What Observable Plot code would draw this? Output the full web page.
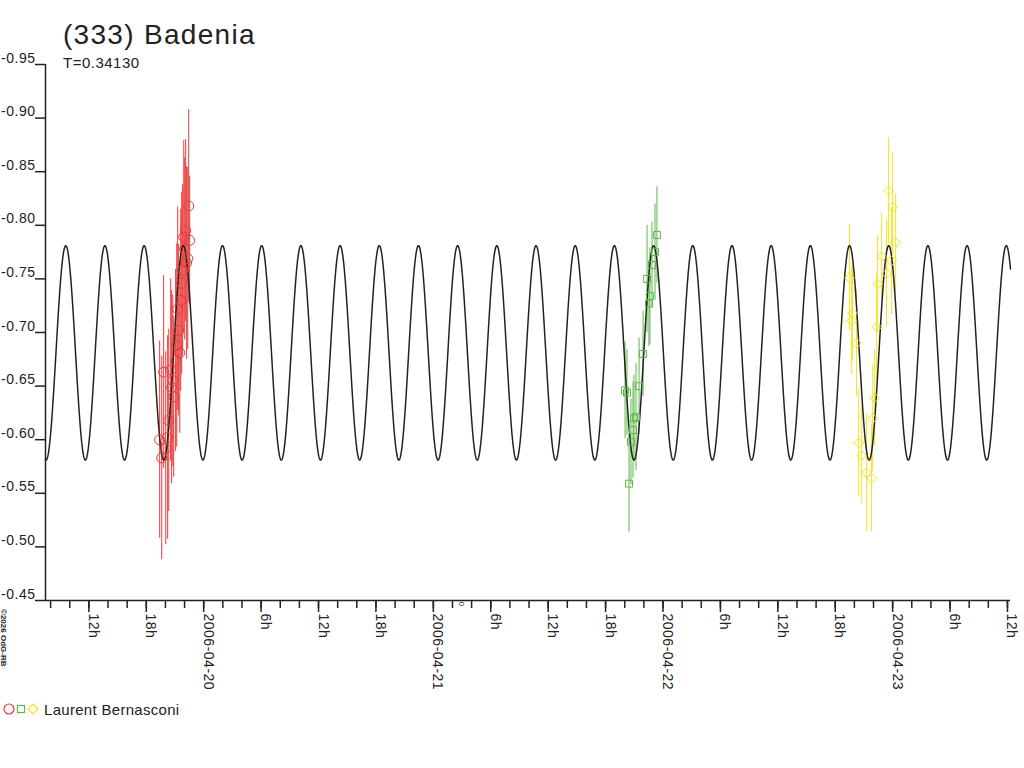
<!DOCTYPE html>
<html><head><meta charset="utf-8">
<script src="https://cdn.jsdelivr.net/npm/d3@7"></script>
<script src="https://cdn.jsdelivr.net/npm/@observablehq/plot@0.6"></script>
<style>
body{margin:0;background:#fff;font-family:"Liberation Sans",Arial,sans-serif;}
#wrap{position:relative;width:1024px;height:768px;overflow:hidden;background:#fff;}
#chart svg text{letter-spacing:0.5px;}
.ov{position:absolute;white-space:nowrap;color:#222;}
</style></head><body>
<div id="wrap">
  <div id="chart"></div>
  <div class="ov" id="title" style="left:63px;top:21px;font-size:28px;line-height:28px;letter-spacing:1.3px"></div>
  <div class="ov" id="subtitle" style="left:63px;top:55px;font-size:15px;line-height:15px;letter-spacing:0.5px"></div>
  <div class="ov" id="legend" style="left:3px;top:701px;font-size:15px;line-height:15px;letter-spacing:0.3px;display:flex;align-items:center"></div>
  <svg class="ov" id="copy" style="left:0;top:605px" width="12" height="70"></svg>
</div>
<script>
// ---- texts ----
const titleText = "(333) Badenia";
const subtitleText = "T=0.34130";
const observerName = "Laurent Bernasconi";
const copyrightText = "©2026 OdG-RB";

// ---- session 1 (red circles) ----
const redTimes = ["2006-04-19T19:24Z","2006-04-19T19:37Z","2006-04-19T19:49Z","2006-04-19T20:02Z","2006-04-19T20:14Z",
  "2006-04-19T20:21Z","2006-04-19T20:33Z","2006-04-19T20:39Z","2006-04-19T20:46Z","2006-04-19T20:52Z",
  "2006-04-19T21:04Z","2006-04-19T21:11Z","2006-04-19T21:17Z","2006-04-19T21:23Z","2006-04-19T21:30Z",
  "2006-04-19T21:36Z","2006-04-19T21:42Z","2006-04-19T21:48Z","2006-04-19T21:55Z","2006-04-19T22:01Z",
  "2006-04-19T22:07Z","2006-04-19T22:13Z","2006-04-19T22:20Z","2006-04-19T22:26Z","2006-04-19T22:32Z"];
const redMags = [-0.600,-0.583,-0.663,-0.592,-0.602,-0.618,-0.665,-0.649,-0.655,-0.640,
  -0.674,-0.688,-0.722,-0.702,-0.681,-0.730,-0.746,-0.758,-0.789,-0.778,
  -0.795,-0.765,-0.769,-0.818,-0.786];
const redErrs = [0.092,0.095,0.090,0.090,0.095,0.085,0.085,0.090,0.080,0.075,
  0.085,0.095,0.095,0.080,0.075,0.085,0.085,0.080,0.090,0.085,
  0.085,0.090,0.085,0.090,0.060];

// ---- session 2 (green squares) ----
const greenTimes = ["2006-04-21T20:02Z","2006-04-21T20:14Z","2006-04-21T20:27Z","2006-04-21T20:39Z","2006-04-21T20:52Z",
  "2006-04-21T20:58Z","2006-04-21T21:11Z","2006-04-21T21:30Z","2006-04-21T21:55Z","2006-04-21T22:20Z",
  "2006-04-21T22:32Z","2006-04-21T22:38Z","2006-04-21T22:51Z","2006-04-21T23:10Z","2006-04-21T23:22Z"];
const greenMags = [-0.646,-0.644,-0.559,-0.598,-0.609,-0.620,-0.621,-0.650,-0.680,-0.750,
  -0.727,-0.734,-0.763,-0.775,-0.791];
const greenErrs = [0.045,0.040,0.045,0.040,0.045,0.040,0.050,0.045,0.040,0.050,
  0.040,0.045,0.040,0.045,0.045];

// ---- session 3 (yellow diamonds) ----
const yellowTimes = ["2006-04-22T19:30Z","2006-04-22T19:43Z","2006-04-22T19:49Z","2006-04-22T20:14Z","2006-04-22T20:27Z",
  "2006-04-22T20:46Z","2006-04-22T21:17Z","2006-04-22T21:48Z","2006-04-22T21:55Z","2006-04-22T22:07Z",
  "2006-04-22T22:20Z","2006-04-22T22:26Z","2006-04-22T22:51Z","2006-04-22T23:22Z","2006-04-22T23:35Z",
  "2006-04-22T23:54Z","2006-04-23T00:00Z","2006-04-23T00:19Z"];
const yellowMags = [-0.751,-0.711,-0.718,-0.690,-0.597,-0.585,-0.569,-0.564,-0.620,-0.639,
  -0.705,-0.745,-0.771,-0.755,-0.832,-0.767,-0.817,-0.784];
const yellowErrs = [0.050,0.050,0.045,0.050,0.050,0.045,0.055,0.050,0.050,0.045,
  0.050,0.045,0.040,0.050,0.050,0.050,0.050,0.045];

// ---- fitted light-curve model (period T, 2nd harmonic) ----
const periodDays = 0.34130;
const fitEpoch = "2006-04-19T09:35Z";   // time of a maximum
const fitMean = -0.681;
const fitAmp = 0.100;

// ---- axes ----
const xDomain = ["2006-04-19T07:28Z", "2006-04-23T12:19Z"];
const yDomain = [-0.95, -0.45];
const yTicks = [-0.95,-0.90,-0.85,-0.80,-0.75,-0.70,-0.65,-0.60,-0.55,-0.50,-0.45];
const minorTickHours = 2;
const majorTickHours = 6;
const markerDay = "2006-04-21T03:00Z";

const colors = {red:"#e83a3a", green:"#5cb848", yellow:"#f2e21c"};

// ---- build tables ----
const mk = (times, mags, errs) => times.map((t,i)=>({t:new Date(t), m:mags[i], lo:mags[i]-errs[i], hi:mags[i]+errs[i]}));
const red = mk(redTimes, redMags, redErrs);
const green = mk(greenTimes, greenMags, greenErrs);
const yellow = mk(yellowTimes, yellowMags, yellowErrs);

const x0 = new Date(xDomain[0]), x1 = new Date(xDomain[1]);
const ep = new Date(fitEpoch);
const curve = [];
for (let ms = +x0; ms <= +x1; ms += 2*60*1000) {
  const days = (ms - ep)/86400000;
  curve.push({t:new Date(ms), m: fitMean - fitAmp*Math.cos(4*Math.PI*days/periodDays)});
}
curve.push({t:x1, m: fitMean - fitAmp*Math.cos(4*Math.PI*((x1-ep)/86400000)/periodDays)});

const minorTicks = d3.utcHour.every(minorTickHours).range(x0, x1);
const majorTicks = d3.utcHour.every(majorTickHours).range(x0, x1);
const fmtX = d => d.getUTCHours() === 0 ? d3.utcFormat("%Y-%m-%d")(d) : d.getUTCHours() + "h";

const plot = Plot.plot({
  width: 1024, height: 768,
  marginLeft: 45, marginRight: 14, marginTop: 64, marginBottom: 168,
  style: {fontFamily: '"Liberation Sans", Arial, sans-serif', fontSize: "14px", color: "#222", background: "white", overflow: "visible"},
  x: {type: "utc", domain: [x0, x1], label: null},
  y: {domain: yDomain, reverse: true, label: null},
  marks: [
    // error bars
    Plot.ruleX(red, {x: "t", y1: "lo", y2: "hi", stroke: colors.red, strokeWidth: 1}),
    Plot.ruleX(green, {x: "t", y1: "lo", y2: "hi", stroke: colors.green, strokeWidth: 1}),
    Plot.ruleX(yellow, {x: "t", y1: "lo", y2: "hi", stroke: colors.yellow, strokeWidth: 1}),
    // model curve
    Plot.line(curve, {x: "t", y: "m", stroke: "#222", strokeWidth: 1.5}),
    // observations
    Plot.dot(red, {x: "t", y: "m", symbol: "circle", r: 5, stroke: colors.red, fill: "none", strokeWidth: 1}),
    Plot.dot(green, {x: "t", y: "m", symbol: "square", r: 3.9, stroke: colors.green, fill: "none", strokeWidth: 1}),
    Plot.dot(yellow, {x: "t", y: "m", symbol: "diamond2", r: 4.4, stroke: colors.yellow, fill: "none", strokeWidth: 1}),
    // axis lines
    Plot.ruleX([x0], {stroke: "#222", strokeWidth: 1.5}),
    Plot.ruleY([yDomain[1]], {stroke: "#222", strokeWidth: 1.5}),
    // y ticks + labels
    Plot.axisY({ticks: yTicks, tickSize: 10, tickFormat: () => "", label: null, stroke: "#222", strokeWidth: 1.5}),
    Plot.text(yTicks, {y: d => d, text: d => d.toFixed(2), frameAnchor: "left", textAnchor: "end", lineAnchor: "bottom", dx: -10, dy: -2, fill: "#222", fontSize: 14}),
    // x ticks + labels
    Plot.axisX({ticks: minorTicks, tickSize: 8, tickFormat: () => "", label: null, stroke: "#222", strokeWidth: 1.5}),
    Plot.axisX({ticks: majorTicks, tickSize: 12, tickFormat: () => "", label: null, stroke: "#222", strokeWidth: 1.5}),
    Plot.text(majorTicks, {x: d => d, text: fmtX, frameAnchor: "bottom", rotate: 90, textAnchor: "start", lineAnchor: "bottom", dy: 13, dx: 0, fill: "#222", fontSize: 14}),
    Plot.text([new Date(markerDay)], {x: d => d, text: () => "0", frameAnchor: "bottom", rotate: 90, textAnchor: "start", lineAnchor: "middle", dy: 1, fill: "#222", fontSize: 8})
  ]
});
document.getElementById("chart").appendChild(plot);

document.getElementById("title").textContent = titleText;
document.getElementById("subtitle").textContent = subtitleText;

const legend = document.getElementById("legend");
legend.innerHTML = `<svg width="40" height="16" style="margin-right:1px">
  <circle cx="6" cy="8" r="5" fill="none" stroke="${colors.red}" stroke-width="1.2"/>
  <rect x="14.5" y="4.5" width="7" height="7" fill="none" stroke="${colors.green}" stroke-width="1.2"/>
  <polygon points="30,3 35,8 30,13 25,8" fill="none" stroke="${colors.yellow}" stroke-width="1.2"/>
</svg><span></span>`;
legend.querySelector("span").textContent = observerName;

const copy = document.getElementById("copy");
copy.innerHTML = `<text transform="translate(1,4) rotate(90)" font-size="8" font-weight="bold" fill="#222" font-family="Liberation Sans, Arial"></text>`;
copy.querySelector("text").textContent = copyrightText;
</script>
</body></html>
